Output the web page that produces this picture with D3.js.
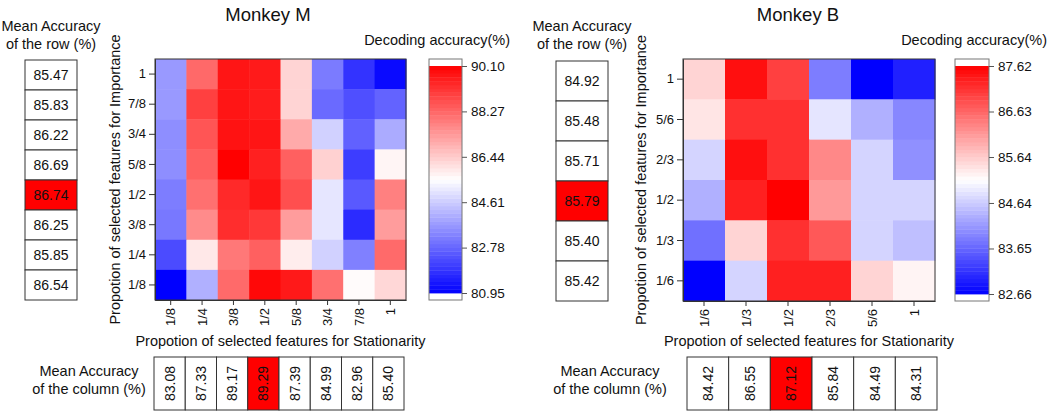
<!DOCTYPE html>
<html lang="en">
<head>
<meta charset="utf-8">
<title>Decoding accuracy - Monkey M and Monkey B</title>
<script src="https://d3js.org/d3.v7.min.js"></script>
<style>
 body { margin: 0; background: #fff; }
 text { font-family: "Liberation Sans", Arial, sans-serif; fill: #111; }
</style>
</head>
<body>
<script>
// ---- Monkey M data ----
const mStationarity = ['1/8', '1/4', '3/8', '1/2', '5/8', '3/4', '7/8', '1'];
const mImportance = ['1', '7/8', '3/4', '5/8', '1/2', '3/8', '1/4', '1/8']; // top to bottom
const mAccuracy = [
  [83.70, 88.22, 89.73, 89.64, 86.30, 83.15, 81.87, 81.13],
  [83.70, 88.96, 89.73, 89.60, 86.30, 82.85, 82.37, 82.73],
  [83.50, 88.58, 89.78, 89.73, 87.05, 84.70, 82.69, 84.02],
  [83.50, 88.37, 90.10, 89.53, 88.37, 86.35, 82.05, 85.71],
  [83.20, 88.09, 89.37, 89.73, 88.68, 85.07, 82.55, 87.81],
  [83.10, 87.60, 89.30, 89.09, 87.30, 85.07, 81.73, 87.30],
  [82.30, 85.94, 87.95, 88.37, 85.85, 84.70, 83.24, 88.20],
  [80.95, 84.11, 88.20, 89.95, 89.65, 88.09, 85.60, 86.25]
];
const mRowMeans = [85.47, 85.83, 86.22, 86.69, 86.74, 86.25, 85.85, 86.54];
const mColMeans = [83.08, 87.33, 89.17, 89.29, 87.39, 84.99, 82.96, 85.40];
const mBarTicks = [90.10, 88.27, 86.44, 84.61, 82.78, 80.95];

// ---- Monkey B data ----
const bStationarity = ['1/6', '1/3', '1/2', '2/3', '5/6', '1'];
const bImportance = ['1', '5/6', '2/3', '1/2', '1/3', '1/6'];
const bAccuracy = [
  [85.56, 87.47, 87.00, 83.88, 82.66, 82.97],
  [85.39, 87.15, 87.15, 84.89, 84.37, 83.97],
  [84.72, 87.47, 87.15, 86.30, 84.72, 84.06],
  [84.37, 87.31, 87.62, 86.13, 84.72, 84.72],
  [83.75, 85.56, 87.15, 86.76, 84.72, 84.52],
  [82.66, 84.72, 87.31, 87.31, 85.56, 85.25]
];
const bRowMeans = [84.92, 85.48, 85.71, 85.79, 85.40, 85.42];
const bColMeans = [84.42, 86.55, 87.12, 85.84, 84.49, 84.31];
const bBarTicks = [87.62, 86.63, 85.64, 84.64, 83.65, 82.66];

const svg = d3.select('body').append('svg')
  .attr('width', 1050)
  .attr('height', 413);

const fmt = d3.format('.2f');

function drawPanel(p) {
  const g = svg.append('g');
  const lo = d3.min(p.ticks), hi = d3.max(p.ticks), mid = (lo + hi) / 2;
  const color = d3.scaleLinear()
    .domain([lo, mid, hi])
    .range(['#0000ff', '#ffffff', '#ff0000'])
    .clamp(true);

  // title
  g.append('text')
    .attr('x', p.titleX).attr('y', 21)
    .attr('text-anchor', 'middle')
    .style('font-size', '18.5px')
    .text(p.title);

  // heatmap
  const x = d3.scaleBand().domain(p.cols).range([p.heat.x0, p.heat.x1]);
  const y = d3.scaleBand().domain(p.rows).range([p.heat.y0, p.heat.y1]);

  p.data.forEach(function (row, i) {
    g.selectAll('.cell' + i)
      .data(row)
      .enter()
      .append('rect')
      .attr('x', (d, j) => x(p.cols[j]))
      .attr('y', y(p.rows[i]))
      .attr('width', x.bandwidth() + 0.5)
      .attr('height', y.bandwidth() + 0.5)
      .style('fill', d => color(d));
  });

  g.append('rect')
    .attr('x', p.heat.x0).attr('y', p.heat.y0)
    .attr('width', p.heat.x1 - p.heat.x0)
    .attr('height', p.heat.y1 - p.heat.y0)
    .style('fill', 'none')
    .style('stroke', '#333')
    .style('stroke-width', 1);

  // axes
  const yAxis = g.append('g')
    .attr('transform', 'translate(' + p.heat.x0 + ',0)')
    .call(d3.axisLeft(y).tickSize(6).tickSizeOuter(0).tickPadding(3));
  yAxis.select('.domain').style('stroke', '#333');
  yAxis.selectAll('line').style('stroke', '#333');
  yAxis.selectAll('text').style('font-size', '13px').style('fill', '#111');

  const xAxis = g.append('g')
    .attr('transform', 'translate(0,' + p.heat.y1 + ')')
    .call(d3.axisBottom(x).tickSize(5).tickSizeOuter(0));
  xAxis.select('.domain').style('stroke', '#333');
  xAxis.selectAll('line').style('stroke', '#333');
  xAxis.selectAll('text')
    .attr('transform', 'rotate(-90)')
    .attr('x', -8).attr('y', 0)
    .attr('dy', '.35em')
    .style('text-anchor', 'end')
    .style('font-size', '13px')
    .style('fill', '#111');

  // axis titles
  g.append('text')
    .attr('x', (p.heat.x0 + p.heat.x1) / 2)
    .attr('y', 346)
    .attr('text-anchor', 'middle')
    .style('font-size', '14.5px')
    .text('Propotion of selected features for Stationarity');

  g.append('text')
    .attr('transform', 'translate(' + p.yLabelX + ',' + (p.heat.y0 + p.heat.y1) / 2 + ') rotate(-90)')
    .attr('text-anchor', 'middle')
    .style('font-size', '14.5px')
    .text('Propotion of selected features for Importance');

  // colour bar
  const b = p.bar;
  const barY = d3.scaleLinear().domain([lo, hi]).range([b.y1 - 7, b.y0 + 7]);
  const steps = 60;
  const stepVals = d3.range(steps).map(k => lo + (hi - lo) * (k + 0.5) / steps);
  const stepH = (barY(lo) - barY(hi)) / steps;
  g.selectAll('.step')
    .data(stepVals)
    .enter()
    .append('rect')
    .attr('x', b.x0)
    .attr('y', d => barY(d) - stepH / 2)
    .attr('width', b.x1 - b.x0)
    .attr('height', stepH + 0.4)
    .style('fill', d => color(d));
  g.append('rect')
    .attr('x', b.x0).attr('y', b.y0)
    .attr('width', b.x1 - b.x0).attr('height', b.y1 - b.y0)
    .style('fill', 'none')
    .style('stroke', '#777');

  const barAxis = g.append('g')
    .attr('transform', 'translate(' + b.x1 + ',0)')
    .call(d3.axisRight(barY).tickValues(p.ticks).tickFormat(fmt).tickSize(5).tickPadding(4));
  barAxis.select('.domain').remove();
  barAxis.selectAll('line').style('stroke', '#555');
  barAxis.selectAll('text').style('font-size', '13.5px').style('fill', '#111');

  g.append('text')
    .attr('x', p.barTitleX).attr('y', 45)
    .attr('text-anchor', 'end')
    .style('font-size', '14.5px')
    .text('Decoding accuracy(%)');

  // row means
  const r = p.rowBox;
  const rowBand = d3.scaleBand().domain(d3.range(p.rowMeans.length)).range([r.y0, r.y1]);
  const rowMax = d3.maxIndex(p.rowMeans);
  g.selectAll('.rowbox')
    .data(p.rowMeans)
    .enter()
    .append('rect')
    .attr('x', r.x0)
    .attr('y', (d, i) => rowBand(i))
    .attr('width', r.x1 - r.x0)
    .attr('height', rowBand.bandwidth())
    .style('fill', (d, i) => i === rowMax ? '#ff0000' : '#fff')
    .style('stroke', '#333');
  g.selectAll('.rowtext')
    .data(p.rowMeans)
    .enter()
    .append('text')
    .attr('x', (r.x0 + r.x1) / 2)
    .attr('y', (d, i) => rowBand(i) + rowBand.bandwidth() / 2)
    .attr('dy', '.36em')
    .attr('text-anchor', 'middle')
    .style('font-size', '14px')
    .text(d => fmt(d));

  const rowHeadX = (r.x0 + r.x1) / 2;
  g.append('text').attr('x', rowHeadX).attr('y', 31)
    .attr('text-anchor', 'middle').style('font-size', '14.5px').text('Mean Accuracy');
  g.append('text').attr('x', rowHeadX).attr('y', 49)
    .attr('text-anchor', 'middle').style('font-size', '14.5px').text('of the row (%)');

  // column means
  const c = p.colBox;
  const colBand = d3.scaleBand().domain(d3.range(p.colMeans.length)).range([c.x0, c.x1]);
  const colMax = d3.maxIndex(p.colMeans);
  g.selectAll('.colbox')
    .data(p.colMeans)
    .enter()
    .append('rect')
    .attr('x', (d, i) => colBand(i))
    .attr('y', c.y0)
    .attr('width', colBand.bandwidth())
    .attr('height', c.y1 - c.y0)
    .style('fill', (d, i) => i === colMax ? '#ff0000' : '#fff')
    .style('stroke', '#333');
  g.selectAll('.coltext')
    .data(p.colMeans)
    .enter()
    .append('text')
    .attr('transform', (d, i) => 'translate(' + (colBand(i) + colBand.bandwidth() / 2) + ',' + (c.y0 + c.y1) / 2 + ') rotate(-90)')
    .attr('dy', '.36em')
    .attr('text-anchor', 'middle')
    .style('font-size', '14px')
    .text(d => fmt(d));

  g.append('text').attr('x', p.colHeadX).attr('y', 376)
    .attr('text-anchor', 'middle').style('font-size', '14.5px').text('Mean Accuracy');
  g.append('text').attr('x', p.colHeadX).attr('y', 394)
    .attr('text-anchor', 'middle').style('font-size', '14.5px').text('of the column (%)');
}

drawPanel({
  title: 'Monkey M', titleX: 268,
  cols: mStationarity, rows: mImportance, data: mAccuracy,
  rowMeans: mRowMeans, colMeans: mColMeans, ticks: mBarTicks,
  heat: {x0: 155, x1: 406, y0: 59, y1: 300},
  rowBox: {x0: 25, x1: 77, y0: 60, y1: 300},
  colBox: {x0: 154, x1: 404, y0: 357, y1: 410},
  bar: {x0: 429, x1: 462, y0: 59, y1: 300},
  barTitleX: 510, yLabelX: 120, colHeadX: 89
});

drawPanel({
  title: 'Monkey B', titleX: 798,
  cols: bStationarity, rows: bImportance, data: bAccuracy,
  rowMeans: bRowMeans, colMeans: bColMeans, ticks: bBarTicks,
  heat: {x0: 683, x1: 935, y0: 59, y1: 301},
  rowBox: {x0: 556, x1: 608, y0: 61, y1: 301},
  colBox: {x0: 687, x1: 937, y0: 357, y1: 410},
  bar: {x0: 955, x1: 989, y0: 59, y1: 301},
  barTitleX: 1047, yLabelX: 646, colHeadX: 610
});
</script>
</body>
</html>
